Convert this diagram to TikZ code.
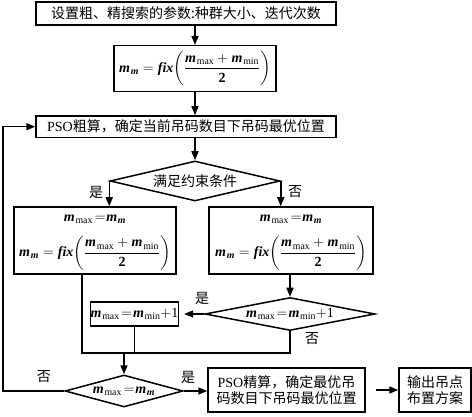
\documentclass[tikz,border=0pt]{standalone}
\usepackage{amsmath}
\usepackage{fontspec}
\setmainfont{Liberation Serif}
\newfontfamily\cjk{Noto Sans CJK SC}
\newfontfamily\lat{Liberation Serif}
\usetikzlibrary{arrows.meta,shapes.geometric}
\newcommand{\mv}{\text{\lat\bfseries\itshape m}}
\newcommand{\mvs}{{\mv\mkern1mu}}
\newcommand{\smax}{\text{\lat max}}
\newcommand{\smin}{\text{\lat min}}
\newcommand{\eqs}{\mkern2mu{=}\mkern1mu}
\newcommand{\fixf}{\mvs_{\mv} = \text{\lat\bfseries\itshape fix}\biggl(\dfrac{\mvs_{\smax} + \mvs_{\smin}}{\text{\lat\bfseries 2}}\biggr)}
\tikzset{
  every node/.style={font=\fontsize{14}{16}\selectfont},
  zh/.style={font=\cjk\fontsize{14}{16}\selectfont},
  box/.style={draw, line width=1.5pt, inner sep=0pt, align=center},
  dia/.style={draw, diamond, line width=1.5pt, inner sep=0pt},
  ln/.style={line width=1.5pt},
  arr/.style={line width=1.5pt, -{Triangle[length=9pt,width=7pt]}},
  lab/.style={font=\cjk\fontsize{14}{16}\selectfont, inner sep=0pt},
  txt/.style={inner sep=0pt}
}
\begin{document}
\begin{tikzpicture}[x=1pt,y=-1pt]
\useasboundingbox (0,0) rectangle (472,417);
% boxes
\node[box,zh,minimum width=300,minimum height=23] (b1) at (186,13.5) {设置粗、精搜索的参数:种群大小、迭代次数};
\node[box,minimum width=162,minimum height=46] (b2) at (195,68.7) {$\fixf$};
\node[box,zh,minimum width=300,minimum height=21.5] (b3) at (186,126.7) {{\lat PSO}粗算，确定当前吊码数目下吊码最优位置};
\node[dia,zh,aspect=4.25,minimum width=170,minimum height=40] (d1) at (195,181) {满足约束条件};
\node[box,minimum width=162,minimum height=67] (b4) at (95,240.5) {};
\node[txt] (t4a) at (95,219) {$\mvs_{\smax}\eqs\mvs_{\mv}$};
\node[txt] (t4b) at (95,253) {$\fixf$};
\node[box,minimum width=164,minimum height=67] (b5) at (291,240.5) {};
\node[txt] (t5a) at (291,219) {$\mvs_{\smax}\eqs\mvs_{\mv}$};
\node[txt] (t5b) at (291,253) {$\fixf$};
\node[dia,aspect=5.15,minimum width=170,minimum height=33] (d2) at (290,314) {$\mvs_{\smax}\eqs\mvs_{\smin}{+}\text{\lat 1}$};
\node[box,minimum width=87,minimum height=24] (b6) at (134.5,314) {$\mvs_{\smax}\eqs\mvs_{\smin}{+}\text{\lat 1}$};
\node[dia,aspect=3.7,minimum width=118,minimum height=32] (d3) at (124,391) {$\mvs_{\smax}\eqs\mvs_{\mv}$};
\node[box,zh,minimum width=157,minimum height=44] (b7) at (286.5,390) {{\lat PSO}精算，确定最优吊\\码数目下吊码最优位置};
\node[box,zh,minimum width=72,minimum height=44] (b8) at (435,390) {输出吊点\\布置方案};
% junction coordinates
\coordinate (j1) at (82,353);
\coordinate (j2) at (290,353);
\coordinate (lp) at (3,250);
% labels
\node[lab] (l1) at (96,192) {是};
\node[lab] (l2) at (295,192) {否};
\node[lab] (l3) at (202,298) {是};
\node[lab] (l4) at (312,339) {否};
\node[lab] (l5) at (44,377) {否};
\node[lab] (l6) at (188,377) {是};
% connectors
\draw[arr] (b1.south -| b2.north) -- (b2.north);
\draw[arr] (b2.south) -- (b2.south |- b3.north);
\draw[arr] (b3.south -| d1.north) -- (d1.north);
\draw[arr] (d1.west) -- (d1.west |- b4.north);
\draw[arr] (d1.east) -- (d1.east |- b5.north);
\draw[arr] (b5.south -| d2.north) -- (d2.north);
\draw[arr,shorten >=5pt] (d2.west) -- (b6.east);
\draw[ln] (d2.south) -- (j2) -- (j1) -- (j1 |- b4.south);
\draw[ln] (b6.south) -- (b6.south |- j1);
\draw[arr] (d3.north |- j1) -- (d3.north);
\draw[arr] (d3.east) -- (b7.west |- d3.east);
\draw[arr,shorten <=10pt] (b7.east) -- (b8.west);
\draw[arr] (d3.west) -| (lp) |- (b3.west);
\end{tikzpicture}
\end{document}
